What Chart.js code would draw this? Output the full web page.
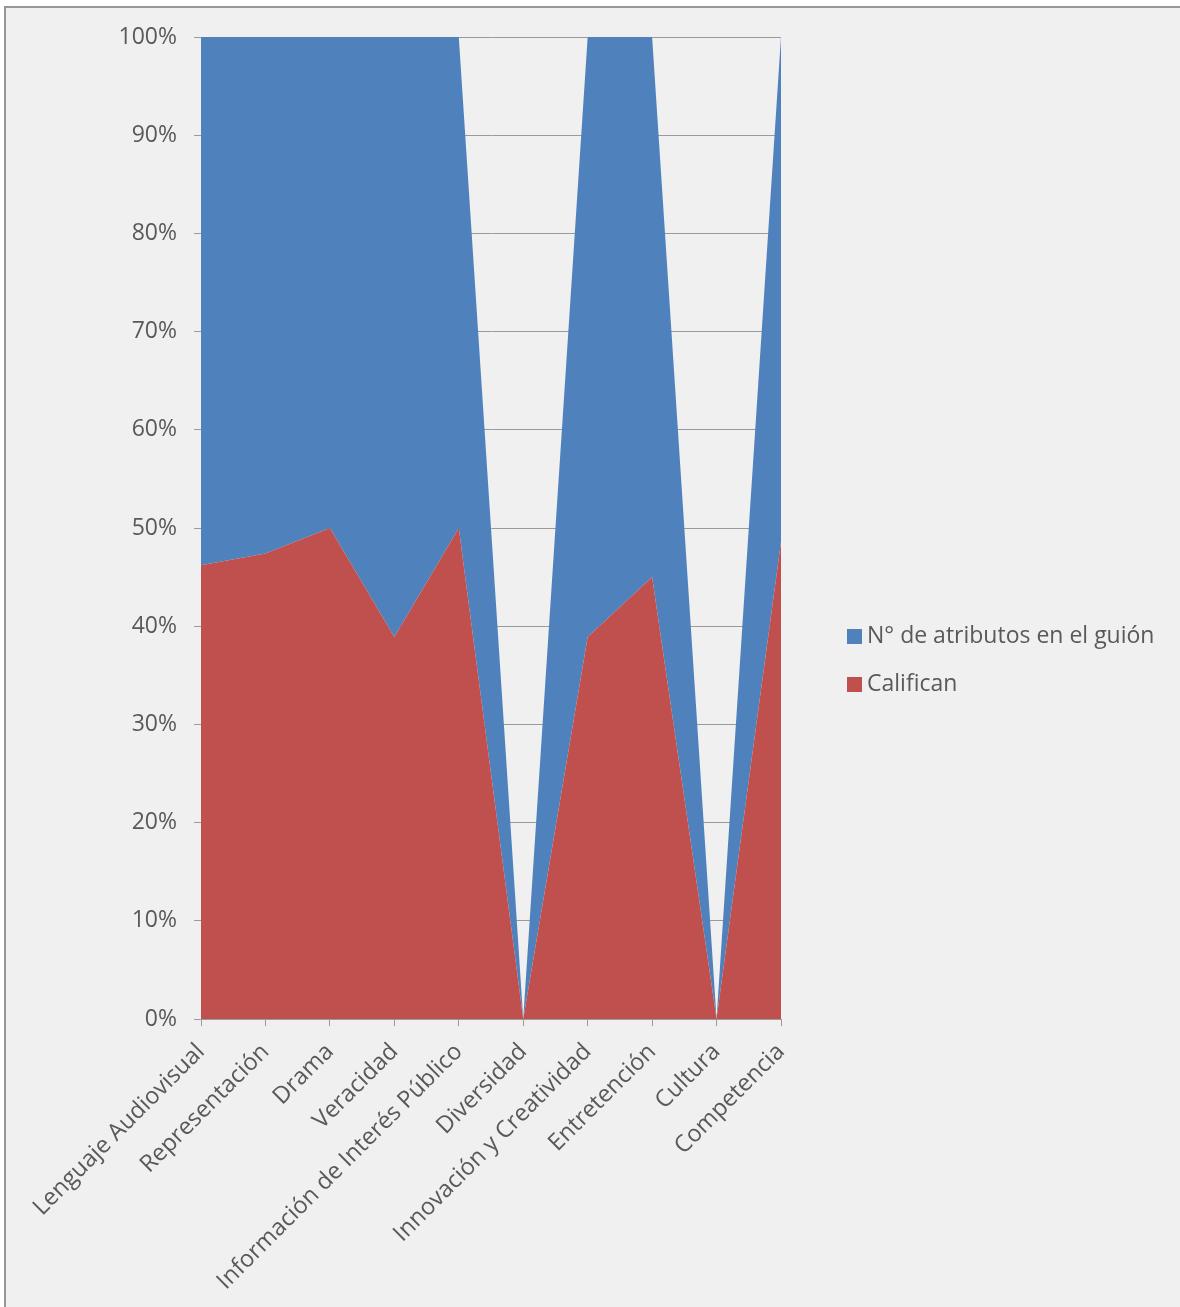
<!DOCTYPE html>
<html>
<head>
<meta charset="utf-8">
<script src="https://cdn.jsdelivr.net/npm/chart.js@4"></script>
<style>
    body { margin: 0; background: #fff; width: 1180px; height: 1307px; overflow: hidden; font-family: 'Open Sans', sans-serif; }
    #marco { position: absolute; left: 4px; top: 6px; right: 0; bottom: 0; border-left: 2px solid #979797; border-top: 2px solid #979797; background: #f0f0f0; }
    #grafico-wrap { position: absolute; left: 0; top: 0; width: 1180px; height: 1307px; }
    .leyenda { position: absolute; left: 847px; font-size: 23px; color: #595959; line-height: 26px; white-space: nowrap; }
    .leyenda span { display: inline-block; width: 15px; height: 15px; margin-right: 5px; vertical-align: -1px; }
</style>
</head>
<body>
<div id="marco"></div>
<div id="grafico-wrap"><canvas id="grafico" width="1180" height="1307"></canvas></div>
<div class="leyenda" style="top: 621px;"><span style="background:#4f81bd"></span>N° de atributos en el guión</div>
<div class="leyenda" style="top: 669px;"><span style="background:#c0504d"></span>Califican</div>
<script>
const categorias = ['Lenguaje Audiovisual', 'Representación', 'Drama', 'Veracidad', 'Información de Interés Público',
    'Diversidad', 'Innovación y Creatividad', 'Entretención', 'Cultura', 'Competencia'];

// porcentajes (100% apilado)
const califican = [46.2, 47.4, 50, 38.9, 50, 0, 38.9, 45, 0, 48.6];
const atributosGuion = [53.8, 52.6, 50, 61.1, 50, 0, 61.1, 55, 0, 51.4];

const ticksY = [0, 10, 20, 30, 40, 50, 60, 70, 80, 90, 100];

const colorTexto = '#595959';
const colorEje = '#9a9a9a';

new Chart(document.getElementById('grafico').getContext('2d'), {
    type: 'line',
    data: {
        labels: categorias,
        datasets: [
            { label: 'Califican', data: califican, backgroundColor: '#c0504d', borderWidth: 0, pointRadius: 0, fill: 'origin' },
            { label: 'N° de atributos en el guión', data: atributosGuion, backgroundColor: '#4f81bd', borderWidth: 0, pointRadius: 0, fill: '-1' }
        ]
    },
    options: {
        responsive: false, animation: false,
        layout: { padding: { left: 0, right: 399, top: 37, bottom: 0 } },
        plugins: { legend: { display: false }, tooltip: { enabled: false } },
        elements: { line: { tension: 0 } },
        scales: {
            x: {
                offset: false,
                grid: { drawOnChartArea: false, drawTicks: true, tickLength: 7, color: colorEje },
                border: { color: colorEje },
                ticks: { autoSkip: false, minRotation: 45, maxRotation: 45, padding: 12, color: colorTexto, font: { family: 'Open Sans', size: 23.5 } },
                afterFit: s => { s.height = 1307 - 1019; }
            },
            y: {
                stacked: true, min: 0, max: 100,
                afterBuildTicks: s => { s.ticks = ticksY.map(v => ({ value: v })); },
                grid: { color: colorEje, tickLength: 7 },
                border: { color: colorEje },
                ticks: { padding: 17, color: colorTexto, font: { family: 'Open Sans', size: 23 }, callback: v => v + '%' },
                afterFit: s => { s.width = 201; }
            }
        }
    }
});
</script>
</body>
</html>
